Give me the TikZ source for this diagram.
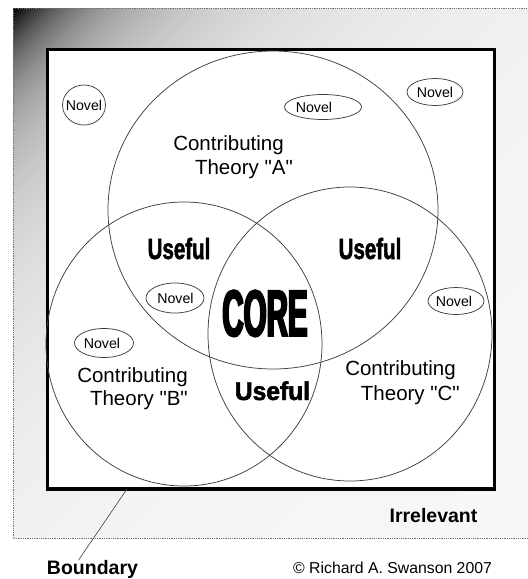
\documentclass[tikz,border=0pt]{standalone}
\usepackage{fontspec}
\setmainfont{Liberation Sans}[Ligatures=TeXOff]
\newfontfamily\vennuseful{Liberation Sans}[FakeStretch=0.7, FakeBold=1.8]
\newfontfamily\venncore{Liberation Sans}[FakeStretch=0.45, FakeBold=3]
\usetikzlibrary{shapes.geometric}
\tikzset{
  venn/.style={draw=black!75, line width=0.75pt, ellipse, inner sep=0pt},
  ring/.style={draw=black!75, line width=0.75pt, ellipse, inner sep=0pt},
  noveltxt/.style={inner sep=0pt, font=\fontsize{14.2}{16}\selectfont},
  contribtxt/.style={inner sep=0pt, anchor=base east, font=\fontsize{20.5}{24}\selectfont},
  usefultxt/.style={inner sep=0pt, anchor=base, font=\vennuseful\bfseries\fontsize{29.3}{32}\selectfont},
  coretxt/.style={inner sep=0pt, anchor=base, font=\venncore\bfseries\fontsize{65.6}{70}\selectfont},
  boldlabel/.style={inner sep=0pt, anchor=base, font=\bfseries\fontsize{19.5}{22}\selectfont},
}
\begin{document}
\begin{tikzpicture}[x=1pt,y=-1pt]
\useasboundingbox (0,0) rectangle (528,579);
% gradient background
\begin{scope}
  \clip (13,8) rectangle (540,538);
  \foreach \d in {0,2,...,120} {
    \pgfmathsetmacro\pc{100*(0.03+0.6*exp(-\d/60)+0.37*exp(-\d/200))}
    \fill[black!\pc!white] ({21+\d+100},-100) -- ({21+\d-700},700) -- (1500,700) -- (1500,-100) -- cycle;
  }
  \foreach \d in {125,130,...,1100} {
    \pgfmathsetmacro\pc{100*(0.03+0.6*exp(-\d/60)+0.37*exp(-\d/200))}
    \fill[black!\pc!white] ({21+\d+100},-100) -- ({21+\d-700},700) -- (1500,700) -- (1500,-100) -- cycle;
  }
\end{scope}
\draw[densely dotted, black!55, line width=0.8pt] (13,8) rectangle (540,538);
% boundary rectangle
\draw[line width=3.5pt, fill=white] (47.5,49.5) rectangle (494.5,489);
% venn circles
\node[venn, minimum width=330pt, minimum height=318pt] (A) at (273,210) {};
\node[venn, minimum width=276pt, minimum height=284pt] (B) at (184,344) {};
\node[venn, minimum width=284pt, minimum height=294pt] (C) at (350,334) {};
% novel rings
\node[ring, minimum width=43pt, minimum height=40pt] (e1) at (84,105) {};
\node[ring, minimum width=77pt, minimum height=25pt] (e2) at (323,107) {};
\node[ring, minimum width=56pt, minimum height=27pt] (e3) at (435,92) {};
\node[ring, minimum width=58pt, minimum height=30pt] (e4) at (175,298) {};
\node[ring, minimum width=59pt, minimum height=29pt] (e5) at (104,343) {};
\node[ring, minimum width=56pt, minimum height=27pt] (e6) at (456,301) {};
\node[noveltxt] (t1) at (84,105) {Novel};
\node[noveltxt] (t2) at (314,107) {Novel};
\node[noveltxt] (t3) at (435,92) {Novel};
\node[noveltxt] (t4) at (175.5,298) {Novel};
\node[noveltxt] (t5) at (102,343) {Novel};
\node[noveltxt] (t6) at (454,301) {Novel};
% theory labels
\node[contribtxt] (ca1) at (284,150) {Contributing};
\node[contribtxt] (ca2) at (293,174) {Theory "A"};
\node[contribtxt] (cb1) at (188,382) {Contributing};
\node[contribtxt] (cb2) at (188,405) {Theory "B"};
\node[contribtxt] (cc1) at (456,375) {Contributing};
\node[contribtxt] (cc2) at (460,400) {Theory "C"};
% useful / core
\node[usefultxt] (u1) at (179,259) {Useful};
\node[usefultxt] (u2) at (370,259) {Useful};
\node[usefultxt] (u3) at (272.5,400) {\scalebox{1.2}[0.88]{Useful}};
\node[coretxt] (core) at (265,336) {CORE};
% outside labels
\node[boldlabel] (irr) at (433.5,522) {Irrelevant};
\node[boldlabel] (boundary) at (92.5,574.5) {Boundary};
\node[inner sep=0pt, anchor=base west, font=\fontsize{15.8}{18}\selectfont] (copy) at (293,573) {© Richard A. Swanson 2007};
\coordinate (bt) at (127,489);
\draw[black!75, line width=0.6pt] (bt) -- ([xshift=-14pt]boundary.north);
\end{tikzpicture}
\end{document}
